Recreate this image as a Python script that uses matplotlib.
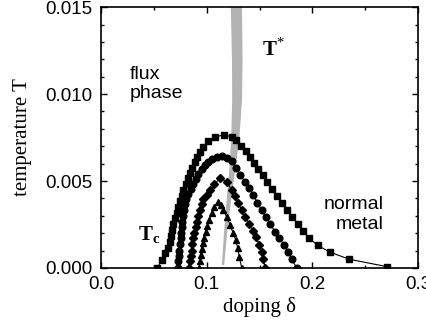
import matplotlib
matplotlib.use('Agg')
from matplotlib import pyplot as plt
from matplotlib.ticker import MultipleLocator, FormatStrFormatter

plt.rcParams['mathtext.fontset'] = 'custom'
plt.rcParams['mathtext.rm'] = 'Liberation Serif'
plt.rcParams['mathtext.bf'] = 'Liberation Serif:bold'

# Tc curves (doping, temperature)
sq_d = [0.053, 0.058, 0.061, 0.063, 0.065, 0.066, 0.067, 0.068, 0.070, 0.072,
        0.073, 0.075, 0.077, 0.078, 0.080, 0.082, 0.084, 0.086, 0.089, 0.091,
        0.094, 0.097, 0.101, 0.108, 0.116, 0.124, 0.128, 0.1325, 0.137, 0.141,
        0.145, 0.149, 0.153, 0.1575, 0.162, 0.1665, 0.171, 0.176, 0.181, 0.186,
        0.191, 0.197, 0.205, 0.217, 0.235, 0.271]
sq_T = [0.0000, 0.00046, 0.00084, 0.00117, 0.00151, 0.00184, 0.00218, 0.00251, 0.00286, 0.00318,
        0.00352, 0.00385, 0.00414, 0.00448, 0.00481, 0.00515, 0.00544, 0.00576, 0.00611, 0.00640,
        0.00668, 0.00697, 0.00728, 0.00755, 0.00764, 0.00755, 0.00736, 0.00703, 0.00672, 0.00640,
        0.00605, 0.00570, 0.00533, 0.00495, 0.00455, 0.00415, 0.00375, 0.00335, 0.00295, 0.00255,
        0.00215, 0.00172, 0.00130, 0.00090, 0.00050, 0.00007]

ci_d = [0.0725, 0.0732, 0.0738, 0.0741, 0.0748, 0.0754, 0.0757, 0.0764, 0.0770, 0.0776,
        0.0782, 0.0792, 0.0801, 0.0825, 0.0850, 0.0874, 0.0896, 0.0921, 0.0953, 0.0984,
        0.1015, 0.1048, 0.1095, 0.1142, 0.1190, 0.1237, 0.1278, 0.1320, 0.1363, 0.1403,
        0.1441, 0.1480, 0.1520, 0.1561, 0.1600, 0.1647, 0.1688, 0.1732, 0.1773, 0.1805,
        0.1852]
ci_T = [0.0000, 0.0004, 0.0007, 0.0010, 0.00136, 0.0017, 0.00203, 0.00236, 0.00266, 0.0030,
        0.00333, 0.00366, 0.00397, 0.00425, 0.00455, 0.00483, 0.00510, 0.00538, 0.00567, 0.00592,
        0.00612, 0.00628, 0.00640, 0.00644, 0.00634, 0.00615, 0.00573, 0.00534, 0.00496, 0.00458,
        0.00420, 0.00375, 0.00333, 0.00291, 0.00253, 0.00209, 0.00170, 0.00132, 0.00094, 0.00050,
        0.0000]

di_d = [0.0830, 0.0842, 0.0849, 0.0858, 0.0864, 0.0874, 0.0883, 0.0896, 0.0905, 0.0921,
        0.0937, 0.0953, 0.0968, 0.1000, 0.1032, 0.1072, 0.1126, 0.1190, 0.1237, 0.1268,
        0.1299, 0.1331, 0.1363, 0.1403, 0.1436, 0.1467, 0.1498, 0.1520, 0.1536, 0.1552]
di_T = [0.0000, 0.0004, 0.0007, 0.0010, 0.00136, 0.0017, 0.00203, 0.00236, 0.00266, 0.0030,
        0.00333, 0.00366, 0.00397, 0.00420, 0.00448, 0.00480, 0.00516, 0.00496, 0.00448, 0.00414,
        0.00375, 0.00333, 0.00295, 0.00253, 0.00214, 0.00176, 0.00132, 0.00094, 0.00050, 0.0000]

tr_d = [0.0925, 0.0937, 0.0943, 0.0953, 0.0962, 0.0975, 0.0991, 0.1006, 0.1025, 0.1048,
        0.1070, 0.1104, 0.1135, 0.1157, 0.1190, 0.1221, 0.1252, 0.1275, 0.1294, 0.1309,
        0.1331]
tr_T = [0.0000, 0.0004, 0.00075, 0.0011, 0.00142, 0.00174, 0.00209, 0.00243, 0.00276, 0.00314,
        0.00350, 0.00377, 0.00360, 0.00333, 0.00295, 0.00247, 0.00199, 0.00161, 0.00113, 0.00065,
        0.0000]

# T* crossover band: temperature, centre doping, band width
ts_T = [0.0002, 0.0022, 0.0039, 0.00563, 0.00736, 0.00966, 0.01196, 0.0152]
ts_d = [0.1150, 0.1176, 0.1205, 0.1237, 0.1265, 0.1283, 0.1285, 0.1276]
ts_w = [0.0022, 0.0030, 0.0042, 0.0056, 0.0076, 0.0093, 0.0100, 0.0106]

fig = plt.figure(figsize=(4.27, 3.24), dpi=100)
ax = fig.add_axes([0.2365, 0.173, 0.7425, 0.805])

left = [d - w / 2 for d, w in zip(ts_d, ts_w)]
right = [d + w / 2 for d, w in zip(ts_d, ts_w)]
ax.fill_betweenx(ts_T, left, right, color='#b3b3b3', lw=0, zorder=1)

ax.plot(sq_d, sq_T, 'k-', lw=0.8, marker='s', ms=4.4, zorder=3)
ax.plot(ci_d, ci_T, 'k-', lw=0.8, marker='o', ms=4.8, zorder=3)
ax.plot(di_d, di_T, 'k-', lw=0.8, marker='D', ms=3.8, zorder=3)
ax.plot(tr_d, tr_T, 'k-', lw=0.8, marker='^', ms=4.8, zorder=3)

ax.set_xlim(0.0, 0.3)
ax.set_ylim(0.0, 0.015)
ax.xaxis.set_major_locator(MultipleLocator(0.1))
ax.xaxis.set_minor_locator(MultipleLocator(0.05))
ax.yaxis.set_major_locator(MultipleLocator(0.005))
ax.yaxis.set_minor_locator(MultipleLocator(0.001))
ax.xaxis.set_major_formatter(FormatStrFormatter('%.1f'))
ax.yaxis.set_major_formatter(FormatStrFormatter('%.3f'))
ax.tick_params(which='both', direction='in', top=True, right=True, width=1)
ax.tick_params(which='major', length=4, labelsize=13.5)
ax.tick_params(axis='y', which='major', pad=6)
ax.tick_params(axis='x', which='major', pad=6)
ax.tick_params(which='minor', length=2.5)
for lab in ax.get_xticklabels() + ax.get_yticklabels():
    lab.set_family('Liberation Sans')
for s in ax.spines.values():
    s.set_linewidth(1.2)

ax.set_xlabel('doping δ', family='Liberation Serif', fontsize=15, labelpad=3)
ax.set_ylabel('temperature T', family='Liberation Serif', fontsize=15, labelpad=10)

ax.text(0.0275, 0.0098, 'flux\nphase', family='Liberation Sans', fontsize=14,
        ha='left', va='baseline', linespacing=1.1)
ax.text(0.2675, 0.00224, 'normal\nmetal', family='Liberation Sans', fontsize=14,
        ha='right', va='baseline', linespacing=1.25)
ax.text(0.1524, 0.0122, r'$\mathbf{T}^{*}$', fontsize=15, ha='left', va='baseline')
ax.text(0.035, 0.0016, r'$\mathbf{T}_{\mathbf{c}}$', fontsize=15, ha='left', va='baseline')

fig.savefig('out.png', dpi=100)
